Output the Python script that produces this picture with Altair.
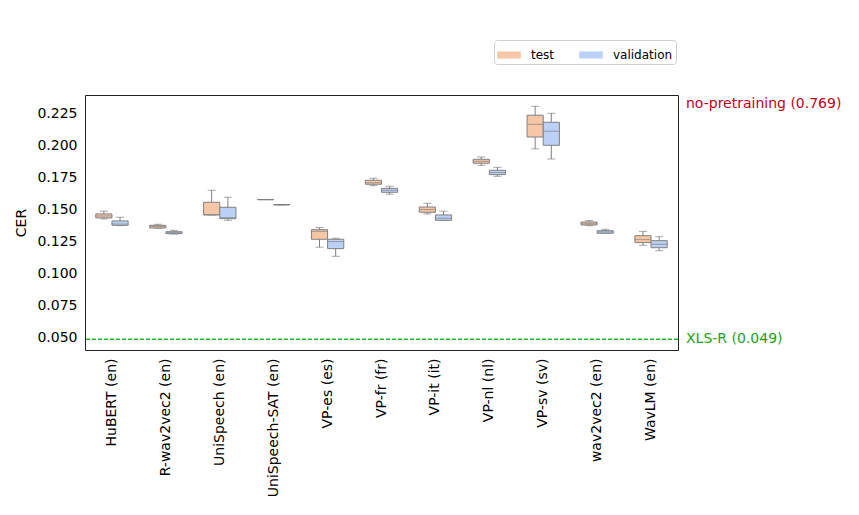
import altair as alt
import pandas as pd

models = ["HuBERT (en)", "R-wav2vec2 (en)", "UniSpeech (en)", "UniSpeech-SAT (en)",
          "VP-es (es)", "VP-fr (fr)", "VP-it (it)", "VP-nl (nl)", "VP-sv (sv)",
          "wav2vec2 (en)", "WavLM (en)"]

test_low = [0.1430, 0.1357, 0.1460, 0.1581, 0.1209, 0.1690, 0.1469, 0.1849, 0.1977, 0.1377, 0.1224]
test_q1 = [0.1438, 0.1359, 0.1461, 0.1580, 0.1271, 0.1701, 0.1482, 0.1865, 0.2070, 0.1383, 0.1245]
test_med = [0.1453, 0.1370, 0.1463, 0.1581, 0.1333, 0.1713, 0.1503, 0.1880, 0.2169, 0.1393, 0.1268]
test_q3 = [0.1469, 0.1380, 0.1560, 0.1582, 0.1346, 0.1732, 0.1523, 0.1896, 0.2240, 0.1406, 0.1299]
test_high = [0.1490, 0.1388, 0.1654, 0.1582, 0.1362, 0.1748, 0.1552, 0.1914, 0.2310, 0.1417, 0.1333]

val_low = [0.1378, 0.1312, 0.1419, 0.1540, 0.1138, 0.1623, 0.1417, 0.1763, 0.1898, 0.1318, 0.1182]
val_q1 = [0.1380, 0.1315, 0.1432, 0.1540, 0.1198, 0.1638, 0.1419, 0.1776, 0.2005, 0.1318, 0.1205]
val_med = [0.1390, 0.1322, 0.1440, 0.1541, 0.1253, 0.1654, 0.1435, 0.1792, 0.2115, 0.1328, 0.1232]
val_q3 = [0.1414, 0.1330, 0.1521, 0.1542, 0.1271, 0.1669, 0.1461, 0.1810, 0.2185, 0.1338, 0.1260]
val_high = [0.1443, 0.1341, 0.1599, 0.1542, 0.1279, 0.1685, 0.1490, 0.1833, 0.2255, 0.1349, 0.1291]

y_ticks = [0.05, 0.075, 0.1, 0.125, 0.15, 0.175, 0.2, 0.225]

xlsr_value = 0.049
nopre_value = 0.769

rows = []
for i, m in enumerate(models):
    rows.append(dict(model=m, split="test", low=test_low[i], q1=test_q1[i], med=test_med[i],
                     q3=test_q3[i], high=test_high[i]))
    rows.append(dict(model=m, split="validation", low=val_low[i], q1=val_q1[i], med=val_med[i],
                     q3=val_q3[i], high=val_high[i]))
df = pd.DataFrame(rows)

FONT = "DejaVu Sans"
EDGE = "#808080"
FS = 14

xenc = alt.X("model:N", sort=models, title=None,
             scale=alt.Scale(paddingInner=0.4, paddingOuter=0.2),
             axis=alt.Axis(labelAngle=-90, ticks=False, labelPadding=8, labelFontSize=FS,
                           labelFont=FONT, labelColor="black", domain=False))
xoff = alt.XOffset("split:N", scale=alt.Scale(paddingInner=0, paddingOuter=0))
yscale = alt.Scale(domain=[0.0406, 0.2398], nice=False, zero=False)
yaxis = alt.Axis(values=y_ticks, format=".3f", labelOverlap=False, labelBound=False,
                 ticks=False, labelPadding=8, labelFontSize=FS, labelFont=FONT,
                 labelColor="black", title="CER", titleFontSize=FS, titleFont=FONT,
                 titleFontWeight="normal", titleColor="black", titlePadding=8, grid=False,
                 domain=False)


def yq(field):
    return alt.Y(field, scale=yscale, axis=yaxis)


color = alt.Color("split:N", scale=alt.Scale(domain=["test", "validation"],
                                             range=["#f5c7a7", "#bcd1f6"]),
                  legend=alt.Legend(title=None, orient="none", direction="horizontal",
                                    legendX=409, legendY=-55, labelFontSize=12, labelFont=FONT,
                                    labelColor="black", symbolType="M-1,-0.3L1,-0.3L1,0.3L-1,0.3Z",
                                    symbolSize=560, symbolStrokeWidth=0, columnPadding=24,
                                    strokeColor="#d0d0d0", padding=3, cornerRadius=3,
                                    fillColor="white", symbolOpacity=1, labelOffset=10))

base = alt.Chart(df)

whisk = base.mark_rule(color=EDGE, strokeWidth=1).encode(
    x=xenc, xOffset=xoff, y=yq("low:Q"), y2="high:Q")
caps_low = base.mark_tick(color=EDGE, thickness=1, size=8).encode(
    x=xenc, xOffset=xoff, y=yq("low:Q"))
caps_high = base.mark_tick(color=EDGE, thickness=1, size=8).encode(
    x=xenc, xOffset=xoff, y=yq("high:Q"))
boxes = base.mark_bar(stroke=EDGE, strokeWidth=1, opacity=1).encode(
    x=xenc, xOffset=xoff, y=yq("q1:Q"), y2="q3:Q", color=color)
med = base.mark_tick(color=EDGE, thickness=1, size=16).encode(
    x=xenc, xOffset=xoff, y=yq("med:Q"))

ref_df = pd.DataFrame({"v": [xlsr_value], "label": [f"XLS-R ({xlsr_value})"]})
xlsr_line = alt.Chart(ref_df).mark_rule(color="#28b428", strokeDash=[4, 2], strokeWidth=1.3).encode(
    y=yq("v:Q"))
xlsr_text = alt.Chart(ref_df).mark_text(align="left", baseline="middle", color="#22a022",
                                        fontSize=FS, font=FONT).encode(
    x=alt.value(601), y=yq("v:Q"), text="label:N")
np_df = pd.DataFrame({"label": [f"no-pretraining ({nopre_value})"]})
np_text = alt.Chart(np_df).mark_text(align="left", baseline="middle", color="#c0001a",
                                     fontSize=FS, font=FONT).encode(
    x=alt.value(601), y=alt.value(9), text="label:N")

chart = alt.layer(whisk, caps_low, caps_high, boxes, med, xlsr_line, xlsr_text, np_text).properties(
    width=593, height=255,
    background="white",
    autosize=alt.AutoSizeParams(type="none"),
    padding={"left": 77, "top": 87, "right": 170, "bottom": 150},
).configure_view(stroke="#222222", strokeWidth=1)

chart.save("out.html", embed_options={"renderer": "svg", "actions": False})
